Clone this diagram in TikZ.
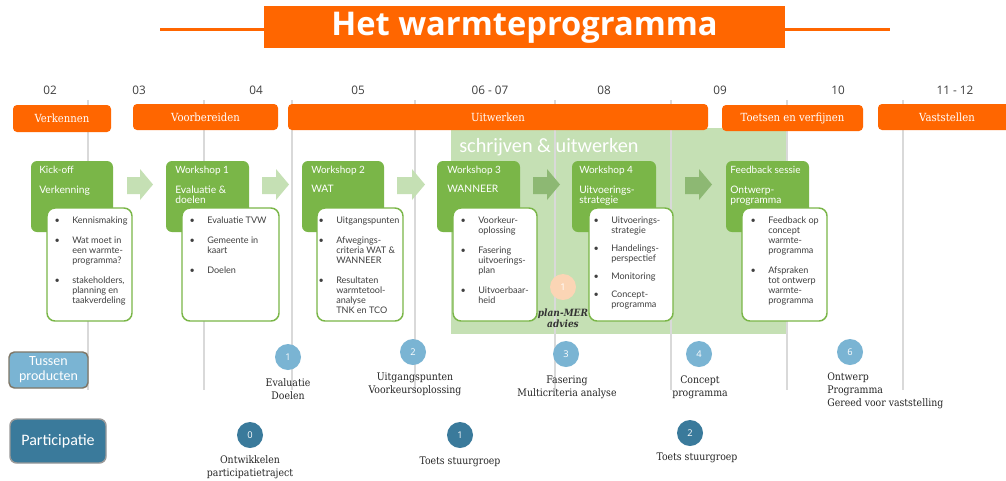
\documentclass[tikz,border=0pt]{standalone}
\usepackage{fontspec}
\setmainfont{Lato}
\newfontfamily\osans{Open Sans}
\newfontfamily\slab{DejaVu Serif Condensed}
\newfontfamily\calib{Carlito}
\usetikzlibrary{fit,calc}
\definecolor{orng}{HTML}{FF6600}
\definecolor{gdark}{HTML}{7AB648}
\definecolor{glight}{HTML}{C5E0B4}
\definecolor{garrow}{HTML}{8DB873}
\definecolor{lblue}{HTML}{7AB4D3}
\definecolor{dteal}{HTML}{3A7A9B}
\definecolor{peach}{HTML}{FBD5B5}
\definecolor{gline}{HTML}{D9D9D9}
\definecolor{txt}{HTML}{404040}
\definecolor{bbord}{HTML}{7F7767}
\newcommand\bult{\llap{\textbullet\hspace{9.3pt}}}
\newcommand\barr[3]{\fill[#3] (#1,177) -- (#2-13,177) -- (#2-13,169) -- (#2,184.5) -- (#2-13,200) -- (#2-13,194) -- (#1,194) -- cycle;}
\tikzset{
  phase/.style={fill=orng, rounded corners=3pt, inner sep=0pt},
  phlab/.style={text=white, inner sep=0pt, font=\slab\fontsize{8.4}{10}\selectfont},
  wsbox/.style={fill=gdark, rounded corners=4.5pt, inner sep=0pt},
  wbox/.style={fill=white, draw=gdark, line width=1.1pt, rounded corners=6pt, inner sep=0pt},
  wtitle/.style={text=white, font=\fontsize{7.5}{9}\selectfont, inner sep=0pt, anchor=base west},
  wsub/.style={text=white, font=\fontsize{7.7}{8}\selectfont, inner sep=0pt, anchor=north west, align=left},
  blist/.style={text=txt, font=\fontsize{6.8}{7.5}\selectfont, inner sep=0pt, anchor=north west, align=left},
  month/.style={font=\osans\fontsize{8.8}{10}\selectfont, text=txt, inner sep=0pt},
  bluec/.style={circle, fill=lblue, minimum size=19.5pt, inner sep=0pt, text=white, font=\osans\fontsize{7}{8}\selectfont},
  tealc/.style={bluec, fill=dteal},
  clab/.style={font=\slab\fontsize{7.8}{9.75}\selectfont, text=black!85, align=center, inner sep=0pt, anchor=north},
  gridline/.style={draw=gline, line width=1.1pt},
}
\begin{document}
\begin{tikzpicture}[x=0.75pt,y=-0.75pt]
\useasboundingbox (0,0) rectangle (1006,480);
\fill[white] (0,0) rectangle (1006,480);
% title
\node[fill=orng, inner sep=0pt, fit={(264,6)(785,48)}] (title) {};
\node[text=white, font=\osans\bfseries\fontsize{24.5}{26}\selectfont, inner sep=0pt] (titlet) at (524.5,27.5) {Het warmteprogramma};
\coordinate (tl) at (160,29.5);
\coordinate (tr) at (890,29.5);
\draw[orng, line width=2.2pt] (tl) -- (title.west |- tl);
\draw[orng, line width=2.2pt] (title.east |- tr) -- (tr);
% green area
\fill[glight] (451,128) rectangle (787,334);
\node[anchor=base west, text=white, font=\calib\fontsize{15.2}{15}\selectfont, inner sep=0pt] (schr) at (459,152) {schrijven \& uitwerken};
% grid lines
\foreach \x in {88,204,292,415,555,671,787,903} \draw[gridline] (\x,100) -- (\x,390);
% months
\node[month] (m02) at (50,90) {02};
\node[month] (m03) at (139,90) {03};
\node[month] (m04) at (256,90) {04};
\node[month] (m05) at (358,90) {05};
\node[month] (m06) at (490,90) {06 - 07};
\node[month] (m08) at (604,90) {08};
\node[month] (m09) at (720,90) {09};
\node[month] (m10) at (838,90) {10};
\node[month] (m11) at (955,90) {11 - 12};
% phases
\node[phase, fit={(13,105)(111,132)}] (p1) {};
\node[phlab] at (p1.center) {Verkennen};
\node[phase, fit={(133,104)(278,130)}] (p2) {};
\node[phlab] at (p2.center) {Voorbereiden};
\node[phase, fit={(288,104)(708,130)}] (p3) {};
\node[phlab] at (p3.center) {Uitwerken};
\node[phase, fit={(722,105)(863,131)}] (p4) {};
\node[phlab] at (p4.center) {Toetsen en verfijnen};
\node[phase, fit={(878,104)(1016,130)}] (p5) {};
\node[phlab] at (p5.center) {Vaststellen};
% arrows
\barr{127}{153}{glight}
\barr{262}{289}{glight}
\barr{397}{425}{glight}
\barr{533}{560}{garrow}
\barr{685}{712}{garrow}
% workshop 0
\node[wsbox, fit={(31,161)(113,232)}] (g0) {};
\node[wbox, fit={(47,208)(132,321)}] (w0) {};
\node[wtitle] (t0) at (39,173) {Kick-off};
\node[wsub] (s0) at (39,185.3) {Verkenning};
\node[blist] (l0) at (72,216.3) {\bult Kennismaking\\[7.5pt]\bult Wat moet in\\een warmte-\\programma?\\[7.5pt]\bult stakeholders,\\planning en\\taakverdeling};
% workshop 1
\node[wsbox, fit={(166,161)(249,232)}] (g1) {};
\node[wbox, fit={(182,208)(279,321)}] (w1) {};
\node[wtitle] (t1) at (175,173) {Workshop 1};
\node[wsub] (s1) at (175,185.3) {Evaluatie \&\\doelen};
\node[blist] (l1) at (207,216.3) {\bult Evaluatie TVW\\[7.5pt]\bult Gemeente in\\kaart\\[7.5pt]\bult Doelen};
% workshop 2
\node[wsbox, fit={(302,161)(384,232)}] (g2) {};
\node[wbox, fit={(317,208)(403,321)}] (w2) {};
\node[wtitle] (t2) at (311,173) {Workshop 2};
\node[wsub] (s2) at (311,185.3) {WAT};
\node[blist] (l2) at (336,216.3) {\bult Uitgangspunten\\[7.5pt]\bult Afwegings-\\criteria WAT \&\\WANNEER\\[7.5pt]\bult Resultaten\\warmtetool-\\analyse\\TNK en TCO};
% workshop 3
\node[wsbox, fit={(437,161)(520,232)}] (g3) {};
\node[wbox, fit={(453,208)(537,321)}] (w3) {};
\node[wtitle] (t3) at (447,173) {Workshop 3};
\node[wsub] (s3) at (447,185.3) {WANNEER};
\node[blist] (l3) at (478,216.3) {\bult Voorkeur-\\oplossing\\[7.5pt]\bult Fasering\\uitvoerings-\\plan\\[7.5pt]\bult Uitvoerbaar-\\heid};
% workshop 4
\node[wsbox, fit={(572,161)(656,232)}] (g4) {};
\node[wbox, fit={(589,208)(673,321)}] (w4) {};
\node[wtitle] (t4) at (579,173) {Workshop 4};
\node[wsub] (s4) at (579,185.3) {Uitvoerings-\\strategie};
\node[blist] (l4) at (611,216.3) {\bult Uitvoerings-\\strategie\\[6pt]\bult Handelings-\\perspectief\\[6pt]\bult Monitoring\\[6pt]\bult Concept-\\programma};
% feedback
\node[wsbox, fit={(726,161)(809,232)}] (g5) {};
\node[wbox, fit={(742,208)(827,321)}] (w5) {};
\node[wtitle] (t5) at (730,173) {Feedback sessie};
\node[wsub] (s5) at (730,185.3) {Ontwerp-\\programma};
\node[blist] (l5) at (768,216.3) {\bult Feedback op\\concept\\warmte-\\programma\\[7.5pt]\bult Afspraken\\tot ontwerp\\warmte-\\programma};
% plan-MER
\node[circle, fill=peach, minimum size=19.5pt, inner sep=0pt, text=white, font=\osans\fontsize{7}{8}\selectfont] (mer) at (563,287) {1};
\node[font=\slab\bfseries\itshape\fontsize{7.5}{8.3}\selectfont, text=black!80, align=center, inner sep=0pt, anchor=north] (merl) at (563,308.5) {plan-MER\\advies};
% row labels
\node[fill=lblue, draw=bbord, line width=1.1pt, rounded corners=4pt, inner sep=0pt, fit={(9,352)(88,388)}] (tp) {};
\node[text=white, align=center, inner sep=0pt, font=\calib\fontsize{10.5}{11.25}\selectfont] (tpl) at (tp.center) {Tussen\\producten};
\node[fill=dteal, draw=gray!80, line width=1.1pt, rounded corners=5pt, inner sep=0pt, fit={(10,419)(106,463)}] (pa) {};
\node[text=white, inner sep=0pt, font=\calib\fontsize{12}{14}\selectfont] (pal) at (pa.center) {Participatie};
% tussenproducten
\node[bluec] (c1) at (288,357) {1};
\node[clab] at (288,378) {Evaluatie\\Doelen};
\node[bluec] (c2) at (413,352) {2};
\node[clab] at (415,373) {Uitgangspunten\\Voorkeursoplossing};
\node[bluec] (c3) at (566,354) {3};
\node[clab] at (567,376) {Fasering\\Multicriteria analyse};
\node[bluec] (c4) at (699,354) {4};
\node[clab] at (700,376) {Concept\\programma};
\node[bluec] (c6) at (850,352) {6};
\node[clab, anchor=north west, align=left, font=\slab\fontsize{7.8}{9.4}\selectfont] at (827,373) {Ontwerp\\Programma\\Gereed voor vaststelling};
% participatie
\node[tealc] (d0) at (250,435) {0};
\node[clab] at (250,455) {Ontwikkelen\\participatietraject};
\node[tealc] (d1) at (460,435) {1};
\node[clab] at (460,457) {Toets stuurgroep};
\node[tealc] (d2) at (690,433) {2};
\node[clab] at (697,453) {Toets stuurgroep};
\end{tikzpicture}
\end{document}
